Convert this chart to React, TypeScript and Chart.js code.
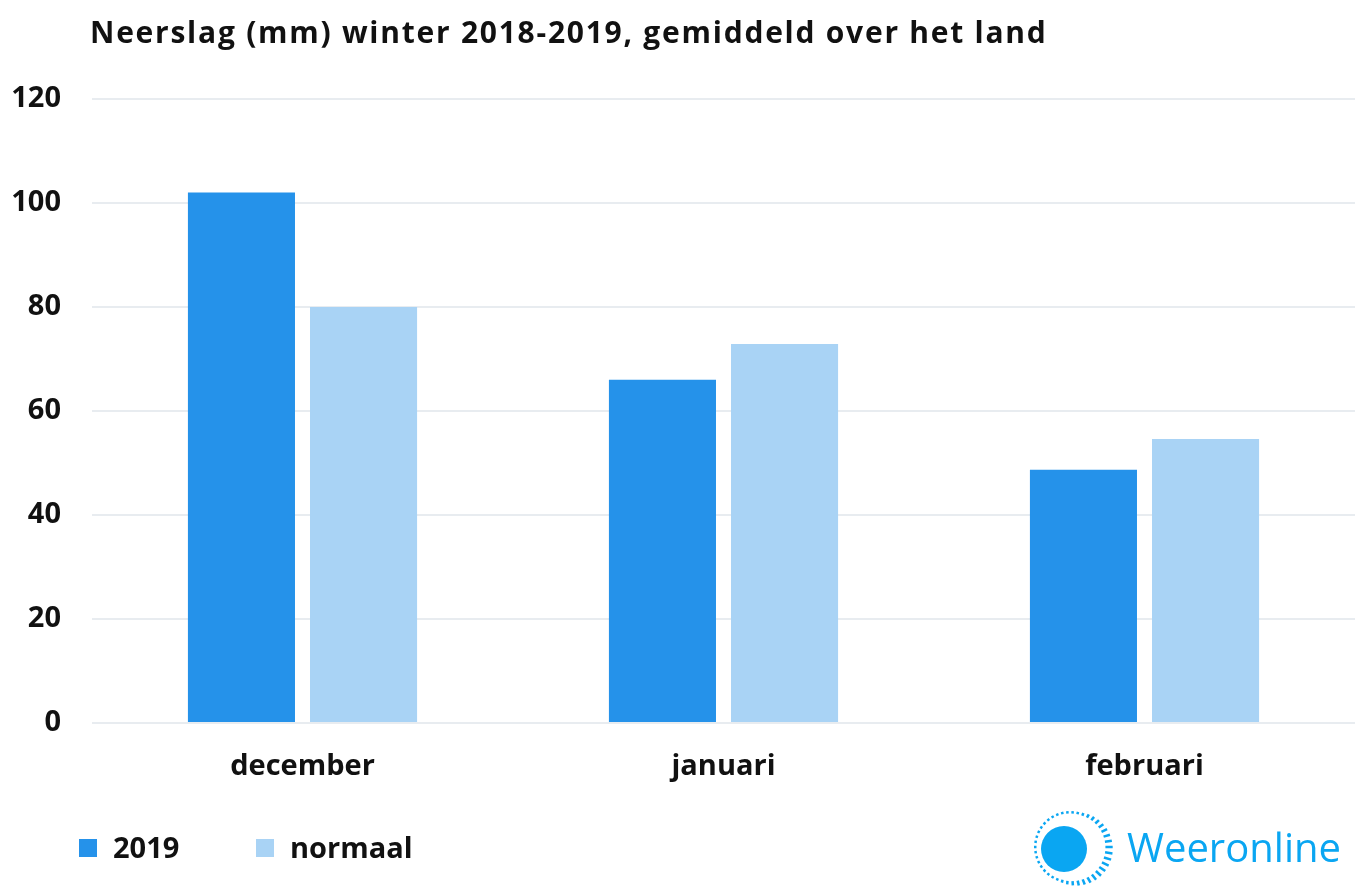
import React, { useEffect, useRef } from "react";
import { Chart, registerables } from "chart.js";

Chart.register(...registerables);

const TITLE = "Neerslag (mm) winter 2018-2019, gemiddeld over het land";
const MONTHS = ["december", "januari", "februari"];
const SERIES_2019 = [102, 66, 48.7];
const SERIES_NORMAAL = [80, 72.9, 54.6];
const SERIES_LABELS = ["2019", "normaal"];
const COLORS = ["#2592EA", "#A9D3F5"];
const Y_TICKS = [0, 20, 40, 60, 80, 100, 120];
const FONT = "'Open Sans', 'DejaVu Sans', sans-serif";

const decorPlugin = {
  id: "decor",
  afterDraw(chart: any) {
    const ctx = chart.ctx as CanvasRenderingContext2D;
    ctx.save();
    // title
    ctx.fillStyle = "#111111";
    ctx.font = `bold 30px ${FONT}`;
    (ctx as any).letterSpacing = "1.75px";
    ctx.textBaseline = "alphabetic";
    ctx.textAlign = "left";
    ctx.fillText(TITLE, 90, 43);
    (ctx as any).letterSpacing = "0px";

    // legend
    const ds = chart.data.datasets;
    const xs = [79, 256];
    ds.forEach((d: any, i: number) => {
      ctx.fillStyle = d.backgroundColor;
      ctx.fillRect(xs[i], 839, 18, 18);
      ctx.fillStyle = "#111111";
      ctx.font = `bold 29px ${FONT}`;
      ctx.textBaseline = "alphabetic";
      ctx.fillText(d.label, xs[i] + 34, 858);
    });

    // logo
    const cx = 1064, cy = 849;
    ctx.fillStyle = "#0AA6F2";
    ctx.beginPath();
    ctx.arc(cx, cy, 23, 0, Math.PI * 2);
    ctx.fill();
    ctx.strokeStyle = "#0AA6F2";
    ctx.lineWidth = 2.5;
    const rx = 1070, ry = 847;
    const n = 42;
    for (let k = 0; k < n; k++) {
      const a = (k / n) * Math.PI * 2;
      const w = Math.max(0, Math.cos(a - 0.3));
      const rOut = 36 + 7 * w;
      const rIn = rOut - (2.5 + 5 * w);
      ctx.beginPath();
      ctx.moveTo(rx + Math.cos(a) * rIn, ry + Math.sin(a) * rIn);
      ctx.lineTo(rx + Math.cos(a) * rOut, ry + Math.sin(a) * rOut);
      ctx.stroke();
    }
    ctx.fillStyle = "#0AA6F2";
    ctx.font = `40px ${FONT}`;
    ctx.textBaseline = "alphabetic";
    ctx.fillText("Weeronline", 1127, 862);
    ctx.restore();
  },
};

export default function App() {
  const ref = useRef<HTMLCanvasElement>(null);
  useEffect(() => {
    if (!ref.current) return;
    const chart = new Chart(ref.current, {
      type: "bar",
      data: {
        labels: MONTHS,
        datasets: [
          {
            label: SERIES_LABELS[0],
            data: SERIES_2019,
            backgroundColor: COLORS[0],
            categoryPercentage: 0.58,
            barPercentage: 0.877,
          },
          {
            label: SERIES_LABELS[1],
            data: SERIES_NORMAAL,
            backgroundColor: COLORS[1],
            categoryPercentage: 0.58,
            barPercentage: 0.877,
          },
        ],
      },
      options: {
        animation: false,
        responsive: false,
        maintainAspectRatio: false,
        layout: { padding: { top: 99, bottom: 113, left: 0, right: 9 } },
        plugins: {
          legend: { display: false },
          title: { display: false },
          tooltip: { enabled: false },
        },
        scales: {
          x: {
            grid: { display: false, drawTicks: false },
            border: { display: false },
            ticks: {
              padding: 26,
              color: "#111111",
              font: { family: FONT, weight: "bold", size: 29 },
            },
            afterFit(scale: any) {
              scale.height = 60;
            },
          },
          y: {
            min: 0,
            max: 120,
            afterBuildTicks(scale: any) {
              scale.ticks = Y_TICKS.map((v) => ({ value: v }));
            },
            grid: { color: "#E8ECF0", lineWidth: 2, drawTicks: false },
            border: { display: false },
            ticks: {
              padding: 31,
              color: "#111111",
              font: { family: FONT, weight: "bold", size: 29 },
            },
            afterFit(scale: any) {
              scale.width = 92;
            },
          },
        },
      },
      plugins: [decorPlugin],
    });
    return () => chart.destroy();
  }, []);
  return (
    <div style={{ position: "absolute", left: 0, top: 0, width: 1364, height: 896, background: "#fff" }}>
      <canvas ref={ref} width={1364} height={896} />
    </div>
  );
}
